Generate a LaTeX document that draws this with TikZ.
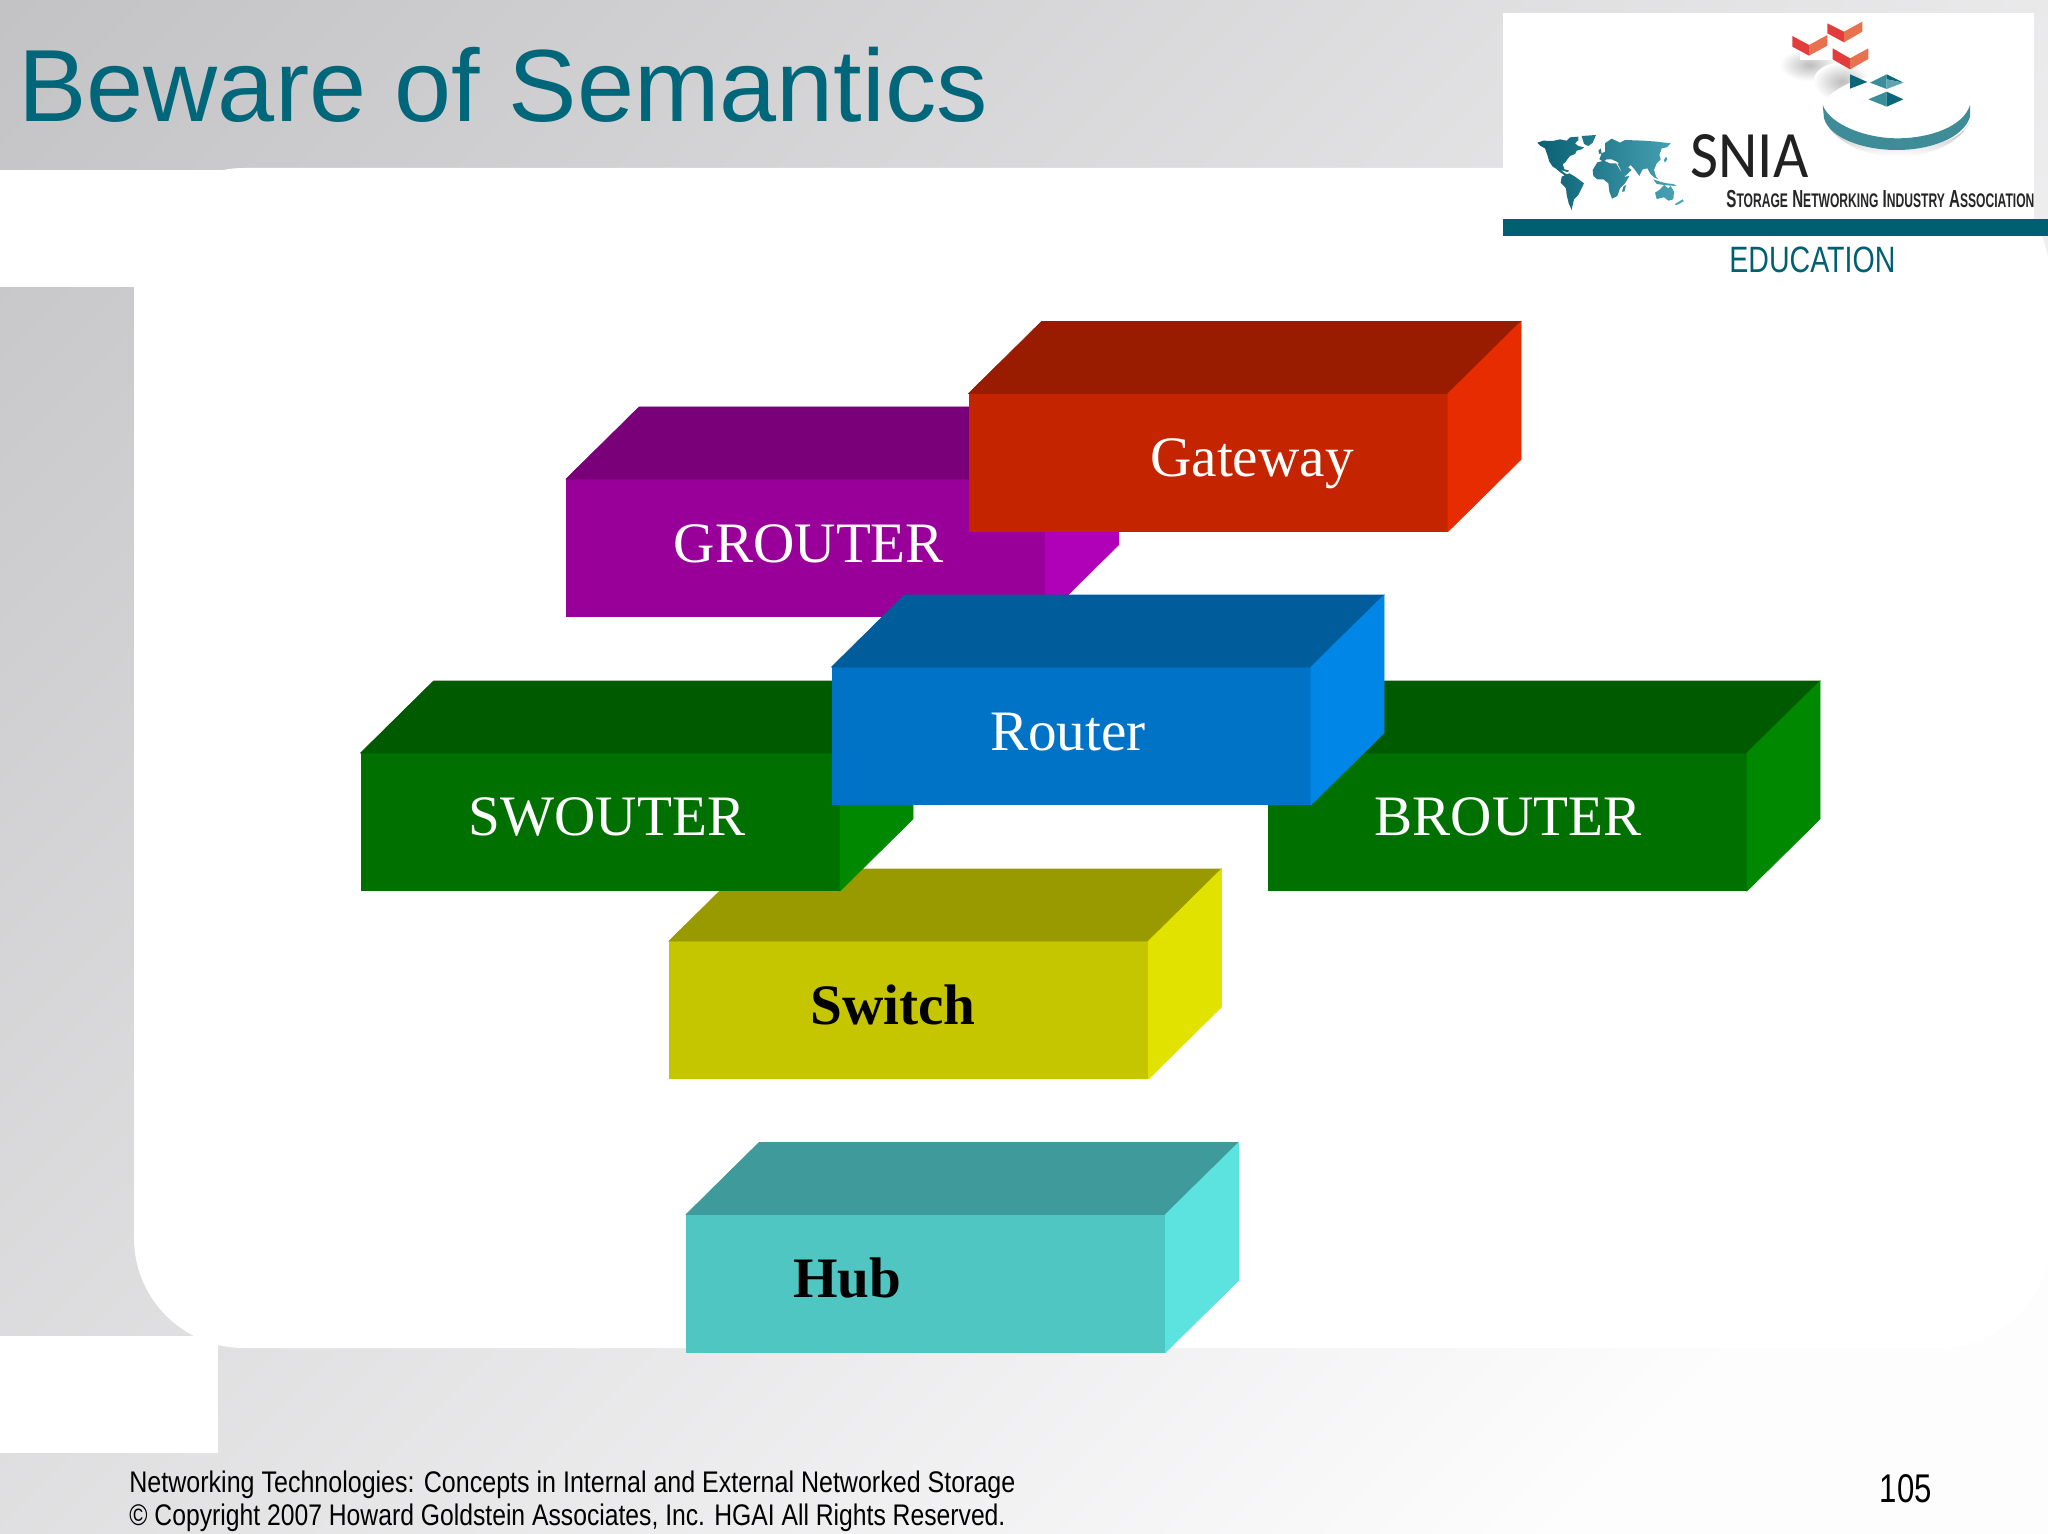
\documentclass[tikz,border=0pt]{standalone}
\usepackage{graphicx}
\usepackage{fontspec}
\setmainfont{Liberation Sans}
\newfontfamily\boxfont{Liberation Serif}
\newfontfamily\logofont{Carlito}
\definecolor{titleteal}{HTML}{00667A}
\definecolor{barteal}{HTML}{005F70}
\definecolor{disk}{HTML}{3F8C99}
\definecolor{chevL}{HTML}{E23D3D}
\definecolor{chevR}{HTML}{E87250}
\definecolor{gemL}{HTML}{3A8D9A}
\definecolor{gemR}{HTML}{0A6678}
\definecolor{bgA}{HTML}{C3C2C4}
\definecolor{bgB}{HTML}{FDFDFE}
\definecolor{mapA}{HTML}{0A5F72}
\definecolor{mapE}{HTML}{4CA6B8}
\definecolor{gFront}{HTML}{990099}
\definecolor{gTop}{HTML}{7A007A}
\definecolor{gSide}{HTML}{B000B8}
\definecolor{rFront}{HTML}{C42500}
\definecolor{rTop}{HTML}{991C00}
\definecolor{rSide}{HTML}{E62C00}
\definecolor{yFront}{HTML}{C6C600}
\definecolor{yTop}{HTML}{999900}
\definecolor{ySide}{HTML}{E2E200}
\definecolor{nFront}{HTML}{007000}
\definecolor{nTop}{HTML}{005A00}
\definecolor{nSide}{HTML}{008800}
\definecolor{bFront}{HTML}{0073C6}
\definecolor{bTop}{HTML}{005C9A}
\definecolor{bSide}{HTML}{0086E6}
\definecolor{cFront}{HTML}{4FC6C2}
\definecolor{cTop}{HTML}{3F9A9B}
\definecolor{cSide}{HTML}{5CE3DF}
\pgfdeclareverticalshading{bgdiag}{100bp}{color(0bp)=(bgB); color(31.7bp)=(bgB); color(75bp)=(bgA); color(100bp)=(bgA)}
\newcommand{\solidbox}[9]{%
  \node[frontface, fill=#4] (#1) at (#2,#3) {};
  \fill[#5, draw=#5, line width=.3pt] (#1.north west) -- ++(73,-72) -- ++(479.5,0) -- (#1.north east) -- cycle;
  \fill[#6, draw=#6, line width=.3pt] (#1.north east) -- ++(73,-72) -- ++(0,138) -- (#1.south east) -- cycle;
  \node[anchor=base, #9] (#1-label) at (#7,#8) {#1};
}
\tikzset{
  frontface/.style={anchor=north west, minimum width=239.75pt, minimum height=69pt, inner sep=0pt, outer sep=0pt},
  lightlabel/.style={text=white, font=\boxfont\fontsize{28.6}{30}\selectfont},
  darklabel/.style={text=black, font=\boxfont\bfseries\fontsize{28.6}{30}\selectfont},
}
\begin{document}
\begin{tikzpicture}[x=0.5pt,y=-0.5pt]
\useasboundingbox (0,0) rectangle (2048,1534);
% background
\begin{scope}
  \clip (0,0) rectangle (2048,1534);
  \shade[shading=bgdiag, shading angle=45] (-242,-499) rectangle (2291,2034);
  \fill[white, rounded corners=55pt] (134,168) rectangle (2050,1348);
  \fill[white] (0,170) rectangle (300,287);
  \fill[white] (0,1336) rectangle (218,1453);
\end{scope}
% title
\node[anchor=base west, inner sep=0pt, text=titleteal, font=\fontsize{51.3}{55}\selectfont] (title) at (18,121.5) {Beware of Semantics};
% logo
\fill[white] (1502.5,13.5) rectangle (2033.5,219);
\fill[barteal] (1502.5,219) rectangle (2048,236.5);
\begin{scope}[shift={(1750,10)}, x=0.16667pt, y=-0.16667pt]
  \shade[inner color=black!26, outer color=white] (178,165) ellipse [x radius=90, y radius=48];
  \shade[inner color=black!26, outer color=white] (275,215) ellipse [x radius=85, y radius=58];
  \fill[white] (150,120) rectangle (360,150);
  \shade[top color=black!30, bottom color=white] (225,335) .. controls (260,400) and (350,440) .. (440,440) .. controls (540,440) and (630,400) .. (660,335) .. controls (640,385) and (540,420) .. (440,420) .. controls (340,420) and (250,385) .. cycle;
  \fill[white] (218,285) .. controls (240,235) and (340,190) .. (440,190) .. controls (540,190) and (640,235) .. (660,285) .. controls (640,350) and (540,385) .. (440,385) .. controls (350,385) and (240,345) .. cycle;
  \fill[disk] (218,285) .. controls (240,345) and (350,385) .. (440,385) .. controls (540,385) and (640,350) .. (660,285) -- (660,320) .. controls (640,385) and (540,420) .. (440,420) .. controls (340,420) and (240,385) .. (222,325) -- cycle;
  % red chevrons
  \fill[chevL] (127,78) -- (177,105) -- (177,137) -- (127,110) -- cycle;
  \fill[chevR] (177,105) -- (232,75) -- (232,107) -- (177,137) -- cycle;
  \fill[chevL] (232,40) -- (282,65) -- (282,97) -- (232,70) -- cycle;
  \fill[chevR] (282,65) -- (337,35) -- (337,65) -- (282,97) -- cycle;
  \fill[chevL] (248,115) -- (300,145) -- (300,178) -- (248,148) -- cycle;
  \fill[chevR] (300,145) -- (355,115) -- (355,147) -- (300,178) -- cycle;
  % teal pieces
  \fill[gemR] (300,193) -- (352,216) -- (300,236) -- cycle;
  \fill[gemL] (360,218) -- (410,193) -- (410,237) -- cycle;
  \fill[gemR] (410,193) -- (460,218) -- (410,208) -- cycle;
  \fill[gemL!80!white] (410,208) -- (460,218) -- (410,237) -- cycle;
  \fill[gemL] (355,268) -- (410,245) -- (410,290) -- cycle;
  \fill[gemR] (410,245) -- (460,268) -- (410,290) -- cycle;
\end{scope}
% world map
\begin{scope}[shift={(1510,120)}, x=0.16667pt, y=-0.16667pt]
  \shade[left color=mapA, right color=mapE]
    (82,68) -- (100,62) -- (128,63) -- (150,58) -- (170,62) -- (180,52) -- (205,50) -- (205,60) -- (195,70) -- (205,78) -- (222,82) -- (215,88) -- (200,92) -- (195,102) -- (180,108) -- (172,118) -- (165,128) -- (158,132) -- (163,148) -- (178,152) -- (172,156) -- (160,152) -- (145,150) -- (128,140) -- (118,125) -- (112,105) -- (105,85) -- (92,78) -- cycle
    (140,148) -- (152,150) -- (165,160) -- (178,165) -- (170,170) -- (155,160) -- cycle
    (215,48) -- (258,45) -- (248,68) -- (235,78) -- (222,72) -- cycle
    (155,170) -- (178,160) -- (195,170) -- (222,190) -- (215,205) -- (205,225) -- (192,238) -- (188,255) -- (185,270) -- (176,250) -- (170,225) -- (168,205) -- (152,188) -- cycle
    (248,150) -- (262,127) -- (282,122) -- (300,130) -- (318,130) -- (330,150) -- (345,170) -- (358,168) -- (345,190) -- (330,205) -- (322,228) -- (306,236) -- (298,215) -- (295,190) -- (280,178) -- (262,178) -- (250,168) -- cycle
    (268,118) -- (275,100) -- (285,95) -- (285,70) -- (305,56) -- (330,68) -- (345,60) -- (400,62) -- (440,65) -- (482,70) -- (470,82) -- (455,85) -- (448,105) -- (452,118) -- (440,130) -- (432,150) -- (438,170) -- (445,178) -- (432,172) -- (420,160) -- (412,145) -- (398,148) -- (388,168) -- (375,150) -- (362,135) -- (345,150) -- (335,135) -- (320,125) -- (305,118) -- (290,118) -- (280,125) -- cycle
    (322,130) -- (345,135) -- (365,150) -- (345,168) -- (335,155) -- cycle
    (430,178) -- (450,185) -- (470,190) -- (490,192) -- (500,198) -- (470,196) -- (440,192) -- cycle
    (435,218) -- (448,210) -- (462,195) -- (475,205) -- (482,198) -- (492,215) -- (490,238) -- (475,242) -- (462,232) -- (440,237) -- cycle
    (495,252) -- (518,238) -- (521,244) -- (498,256) -- cycle
    (340,200) -- (348,195) -- (343,215) -- (336,215) -- cycle
    (462,120) -- (468,110) -- (472,118) -- (464,128) -- cycle
    (265,92) -- (272,85) -- (275,100) -- (268,102) -- cycle;
\end{scope}
\node[anchor=base west, inner sep=0pt, text=black!87, font=\logofont] (snia) at (1690,178) {\resizebox{59pt}{21.5pt}{SNIA}};
\node[anchor=base west, inner sep=0pt, text=black!85, font=\bfseries] (snianame) at (1726,208) {\resizebox{154pt}{8.6pt}{S{\footnotesize TORAGE} N{\footnotesize ETWORKING} I{\footnotesize NDUSTRY} A{\footnotesize SSOCIATION}}};
\node[anchor=base west, inner sep=0pt, text=barteal] (education) at (1729,273) {\resizebox{83pt}{12.8pt}{EDUCATION}};
% boxes
\solidbox{GROUTER}{566}{479}{gFront}{gTop}{gSide}{809}{562}{lightlabel}
\solidbox{Gateway}{968.5}{393.5}{rFront}{rTop}{rSide}{1252}{476}{lightlabel}
\solidbox{Switch}{669}{941}{yFront}{yTop}{ySide}{893}{1024}{darklabel}
\solidbox{SWOUTER}{360.5}{753}{nFront}{nTop}{nSide}{607}{835}{lightlabel}
\solidbox{BROUTER}{1267.5}{753}{nFront}{nTop}{nSide}{1508}{835}{lightlabel}
\solidbox{Router}{831.5}{667}{bFront}{bTop}{bSide}{1068}{750}{lightlabel}
\solidbox{Hub}{686}{1214.5}{cFront}{cTop}{cSide}{847.5}{1297}{darklabel}
% footer
\node[anchor=base west, inner sep=0pt] (foot1) at (129,1492) {\resizebox{443pt}{10.8pt}{Networking Technologies: Concepts in Internal and External Networked Storage}};
\node[anchor=base west, inner sep=0pt] (foot2) at (129,1525) {\resizebox{438pt}{10.8pt}{\textcopyright{} Copyright 2007 Howard Goldstein Associates, Inc. HGAI All Rights Reserved.}};
\node[anchor=base west, inner sep=0pt] (pageno) at (1879.5,1502) {\resizebox{26pt}{14pt}{105}};
\end{tikzpicture}
\end{document}
